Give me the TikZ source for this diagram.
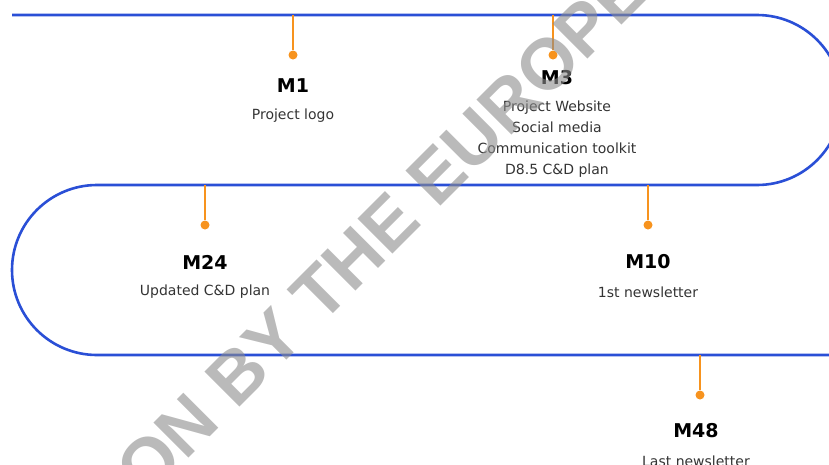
\documentclass[tikz,border=0pt]{standalone}
\usepackage{fontspec}
\setmainfont{DejaVu Sans}
\newfontfamily\wmfont{Liberation Sans}
\definecolor{trackblue}{HTML}{2A4FD6}
\definecolor{tickorange}{HTML}{F7931E}
\definecolor{txtgray}{HTML}{333333}
\begin{document}
\begin{tikzpicture}[x=1pt,y=-1pt,
  track/.style={draw=trackblue,line width=2.6pt},
  tick/.style={draw=tickorange,line width=2.2pt},
  dot/.style={circle,fill=tickorange,inner sep=0pt,minimum size=9pt},
  mlabel/.style={font=\fontsize{19}{22}\selectfont\bfseries,text=black,inner sep=0pt},
  mtext/.style={font=\fontsize{14}{21}\selectfont,text=txtgray,inner sep=0pt,align=center}]
\useasboundingbox (0,0) rectangle (829,464);
\clip (0,0) rectangle (829,464);
\draw[track] (12,15) -- (757,15) arc[start angle=-90,end angle=90,radius=85] -- (97,185)
  arc[start angle=-90,end angle=-270,radius=85] -- (840,355);
\foreach \N/\X/\Y in {1/293/15,3/553/15,24/205/185,10/648/185,48/700/355}{\coordinate (t\N) at (\X,\Y); \node[dot] (d\N) at (\X,\Y+40) {};}
\foreach \A/\B in {t1/d1,t3/d3,t24/d24,t10/d10,t48/d48}{\draw[tick] (\A) -- (\B);}
\node[mlabel] (m1) at (293,86) {M1};   \node[mtext] (p1) at (293,116) {Project logo};
\node[mlabel] (m3) at (557,78) {M3};   \node[mtext] (p3) at (557,139) {Project Website\\Social media\\Communication toolkit\\D8.5 C\&D plan};
\node[mlabel] (m24) at (205,262) {M24}; \node[mtext] (p24) at (205,292) {Updated C\&D plan};
\node[mlabel] (m10) at (648,262) {M10}; \node[mtext] (p10) at (648,292) {1st newsletter};
\node[mlabel] (m48) at (696,431) {M48}; \node[mtext] (p48) at (696,461) {Last newsletter};
% watermark
\node[rotate=45,text=black!45,opacity=0.6,font=\wmfont\bfseries\fontsize{72}{72}\selectfont,inner sep=0pt] (wm) at (382,230) {ON BY THE EUROPE};
\end{tikzpicture}
\end{document}
